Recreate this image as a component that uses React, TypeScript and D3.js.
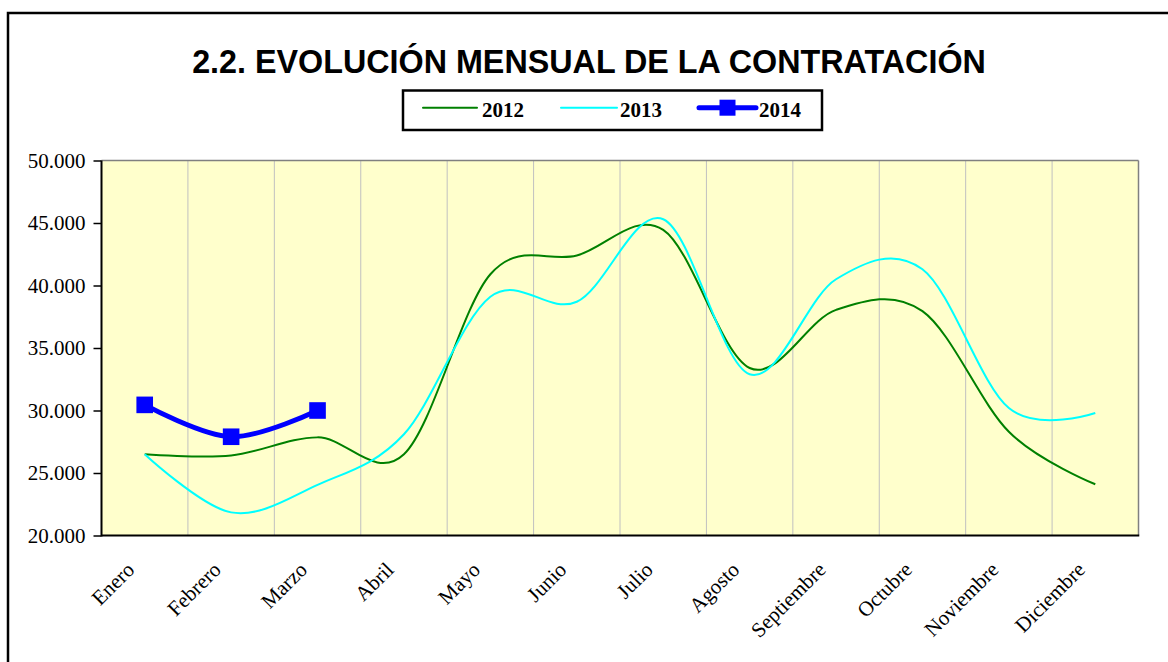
import React, { useRef, useEffect } from "react"
import * as d3 from "d3"

const chart_width = 1168
const chart_height = 662
const plot = { left: 101.5, right: 1138.5, top: 160.5, bottom: 535.5 }

const months = [
  "Enero", "Febrero", "Marzo", "Abril", "Mayo", "Junio",
  "Julio", "Agosto", "Septiembre", "Octubre", "Noviembre", "Diciembre",
]
const values2012 = [26500, 26400, 27850, 26500, 40900, 42400, 44450, 33400, 38050, 37950, 28300, 24100]
const values2013 = [26500, 21850, 24050, 28100, 39100, 38700, 45300, 32900, 40500, 41300, 30200, 29800]
const values2014 = [30450, 27900, 30000]
const yTicks = [20000, 25000, 30000, 35000, 40000, 45000, 50000]

const series = [
  { name: "2012", values: values2012, color: "#008000", width: 2, marker: false },
  { name: "2013", values: values2013, color: "#00FFFF", width: 2, marker: false },
  { name: "2014", values: values2014, color: "#0000FF", width: 5, marker: true },
]

const serif = "'Liberation Serif', 'Times New Roman', serif"
const sans = "'Liberation Sans', Arial, sans-serif"

const App = () => {
  const yAxisRef = useRef(null)

  const x = d3.scaleBand().domain(months).range([plot.left, plot.right])
  const cx = (i: number) => (x(months[i]) as number) + x.bandwidth() / 2
  const y = d3.scaleLinear().domain([20000, 50000]).range([plot.bottom, plot.top])

  const fmt = d3
    .formatLocale({ decimal: ",", thousands: ".", grouping: [3], currency: ["", " €"] })
    .format(",.0f")

  const line = d3
    .line<number>()
    .x((d, i) => cx(i))
    .y(d => y(d))
    .curve(d3.curveCardinal)

  useEffect(() => {
    if (!yAxisRef.current) return
    const g = d3.select(yAxisRef.current)
    g.selectAll("*").remove()
    g.call(
      d3.axisLeft(y).tickValues(yTicks).tickFormat(fmt as any).tickSize(8).tickSizeOuter(0).tickPadding(8)
    )
    g.attr("font-family", serif).attr("font-size", 21)
    g.select(".domain").remove()
    g.selectAll(".tick line").attr("stroke", "#000").attr("stroke-width", 1.5)
    g.selectAll(".tick text").attr("fill", "#000")
  }, [])

  // legend layout
  const legendItems = [
    { s: series[0], x1: 423, x2: 477, tx: 482 },
    { s: series[1], x1: 561, x2: 617, tx: 620 },
    { s: series[2], x1: 699, x2: 756, tx: 759 },
  ]

  return (
    <svg
      width={chart_width}
      height={chart_height}
      style={{ position: "absolute", left: 0, top: 0, background: "#fff" }}
    >
      {/* outer frame */}
      <rect x={8} y={13} width={1200} height={700} fill="none" stroke="#000" strokeWidth={2.5} />

      <text
        x={589}
        y={73}
        textAnchor="middle"
        fontFamily={sans}
        fontWeight="bold"
        fontSize={32.3}
        fill="#000"
      >
        2.2. EVOLUCIÓN MENSUAL DE LA CONTRATACIÓN
      </text>

      {/* legend */}
      <rect x={403} y={90.5} width={419} height={39.5} fill="#fff" stroke="#000" strokeWidth={2.5} />
      {legendItems.map(({ s, x1, x2, tx }) => (
        <g key={s.name}>
          <line x1={x1} x2={x2} y1={107.7} y2={107.7} stroke={s.color} strokeWidth={s.width} strokeLinecap="round" />
          {s.marker && <rect x={(x1 + x2) / 2 - 8} y={99.7} width={16} height={16} fill={s.color} />}
          <text x={tx} y={116.5} fontFamily={serif} fontWeight="bold" fontSize={21} fill="#000">
            {s.name}
          </text>
        </g>
      ))}

      {/* plot area */}
      <rect
        x={plot.left}
        y={plot.top}
        width={plot.right - plot.left}
        height={plot.bottom - plot.top}
        fill="#FFFFCC"
      />
      {months.slice(1).map(m => (
        <line
          key={m}
          x1={x(m)}
          x2={x(m)}
          y1={plot.top}
          y2={plot.bottom}
          stroke="#C0C0C0"
          strokeWidth={1}
        />
      ))}
      <line x1={plot.left} x2={plot.right} y1={plot.top} y2={plot.top} stroke="#808080" strokeWidth={1.5} />
      <line x1={plot.right} x2={plot.right} y1={plot.top} y2={plot.bottom} stroke="#808080" strokeWidth={1.5} />

      {series.map(s => (
        <g key={s.name}>
          <path d={line(s.values) || ""} fill="none" stroke={s.color} strokeWidth={s.width} strokeLinejoin="round" />
          {s.marker &&
            s.values.map((v, i) => (
              <rect key={i} x={cx(i) - 8.3} y={y(v) - 8.3} width={16.6} height={16.6} fill={s.color} />
            ))}
        </g>
      ))}

      {/* axes lines */}
      <line x1={plot.left} x2={plot.left} y1={plot.top} y2={plot.bottom + 1} stroke="#000" strokeWidth={2} />
      <line x1={plot.left} x2={plot.right + 0.75} y1={plot.bottom} y2={plot.bottom} stroke="#000" strokeWidth={2} />
      <g ref={yAxisRef} transform={`translate(${plot.left},0)`} />

      {months.map((m, i) => (
        <text
          key={m}
          transform={`translate(${cx(i) - 9},571) rotate(-45)`}
          textAnchor="end"
          fontFamily={serif}
          fontSize={21}
          fill="#000"
        >
          {m}
        </text>
      ))}
    </svg>
  )
}

export default App
